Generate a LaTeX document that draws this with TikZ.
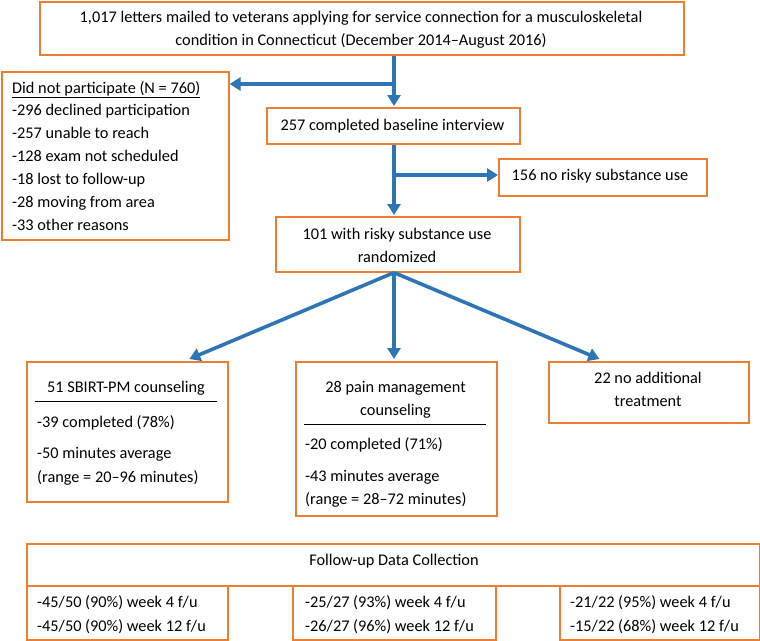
\documentclass[tikz,border=0pt]{standalone}
\usepackage{fontspec}
\setmainfont{Carlito}
\usetikzlibrary{arrows.meta,calc}
\definecolor{boxorange}{RGB}{237,125,49}
\definecolor{arrowblue}{RGB}{46,117,182}
\begin{document}
\begin{tikzpicture}[x=1pt,y=-1pt,
  box/.style={draw=boxorange,line width=1.6pt,inner sep=0pt,anchor=north west},
  txt/.style={inner sep=0pt,font=\fontsize{16.3}{20}\selectfont},
  lt/.style={txt,anchor=base west},
  ct/.style={txt,anchor=base},
  arr/.style={draw=arrowblue,line width=3.6pt,-{Triangle[length=11pt,width=13pt]}},
  rulel/.style={draw=black,line width=1pt}]
\useasboundingbox (0,0) rectangle (760,640);
% boxes
\node[box,minimum width=644pt,minimum height=53pt] (top) at (39,1) {};
\node[box,minimum width=227pt,minimum height=168pt] (dnp) at (1,71) {};
\node[box,minimum width=253pt,minimum height=36pt] (base) at (266,107) {};
\node[box,minimum width=208pt,minimum height=37pt] (none) at (498,158) {};
\node[box,minimum width=244pt,minimum height=55pt] (rand) at (275,216) {};
\node[box,minimum width=201pt,minimum height=140pt] (sbirt) at (26,361) {};
\node[box,minimum width=201pt,minimum height=154pt] (pain) at (295,361) {};
\node[box,minimum width=200pt,minimum height=61pt] (noadd) at (548,361) {};
\node[box,minimum width=733pt,minimum height=42pt] (fuh) at (26,543) {};
\node[box,minimum width=201pt,minimum height=54pt] (fua) at (26,585) {};
\node[box,minimum width=203pt,minimum height=54pt] (fub) at (292,585) {};
\node[box,minimum width=200pt,minimum height=54pt] (fuc) at (559,585) {};
% texts
\node[ct] (toptxa) at (361,22) {1,017 letters mailed to veterans applying for service connection for a musculoskeletal};
\node[ct] (toptxb) at (361,45) {condition in Connecticut (December 2014–August 2016)};
\node[lt] (dnpa) at (12,93) {\underline{Did not participate (N = 760)}};
\node[lt] (dnpb) at (12,115.5) {-296 declined participation};
\node[lt] (dnpc) at (12,138.5) {-257 unable to reach};
\node[lt] (dnpd) at (12,161.5) {-128 exam not scheduled};
\node[lt] (dnpe) at (12,184.5) {-18 lost to follow-up};
\node[lt] (dnpf) at (12,207.5) {-28 moving from area};
\node[lt] (dnpg) at (12,230.5) {-33 other reasons};
\node[ct] (basetx) at (392.5,130) {257 completed baseline interview};
\node[ct] (nonetx) at (600,180) {156 no risky substance use};
\node[ct] (randa) at (397,239) {101 with risky substance use};
\node[ct] (randb) at (397,262) {randomized};
\node[ct] (sba) at (126,392) {51 SBIRT-PM counseling};
\node[lt] (sbb) at (37,427) {-39 completed (78\%)};
\node[lt] (sbc) at (37,458) {-50 minutes average};
\node[lt] (sbd) at (37,482) {(range = 20–96 minutes)};
\node[ct] (paa) at (395.5,392) {28 pain management};
\node[ct] (pab) at (395.5,415) {counseling};
\node[lt] (pac) at (305,449) {-20 completed (71\%)};
\node[lt] (pad) at (305,481) {-43 minutes average};
\node[lt] (pae) at (305,504) {(range = 28–72 minutes)};
\node[ct] (noa) at (648,383) {22 no additional};
\node[ct] (nob) at (648,406) {treatment};
\node[ct] (fuhtx) at (394,565) {Follow-up Data Collection};
\node[lt] (fuaa) at (37,607) {-45/50 (90\%) week 4 f/u};
\node[lt] (fuab) at (37,631) {-45/50 (90\%) week 12 f/u};
\node[lt] (fuba) at (305,607) {-25/27 (93\%) week 4 f/u};
\node[lt] (fubb) at (305,631) {-26/27 (96\%) week 12 f/u};
\node[lt] (fuca) at (570,607) {-21/22 (95\%) week 4 f/u};
\node[lt] (fucb) at (570,631) {-15/22 (68\%) week 12 f/u};
% rules
\draw[rulel] (35,401) -- (217,401);
\draw[rulel] (304,424) -- (486,424);
% connectors
\coordinate (j1) at (394,84);
\coordinate (j2) at (394,175);
\coordinate (r0) at (394,271);
\draw[arr] (top.south -| j1) -- ($(base.north -| j1)+(0,-1)$);
\draw[arr] (j1) -- (dnp.east |- j1);
\draw[arr] (base.south -| j2) -- ($(rand.north -| j2)+(0,-1)$);
\draw[arr] (j2) -- (none.west |- j2);
\draw[arr] (rand.south -| r0) -- ($(sbirt.north west)!0.806!(sbirt.north east)+(0,-2)$);
\draw[arr] (rand.south -| r0) -- ($(pain.north -| r0)+(0,-2)$);
\draw[arr] (rand.south -| r0) -- ($(noadd.north west)!0.255!(noadd.north east)+(0,-2)$);
\end{tikzpicture}
\end{document}
